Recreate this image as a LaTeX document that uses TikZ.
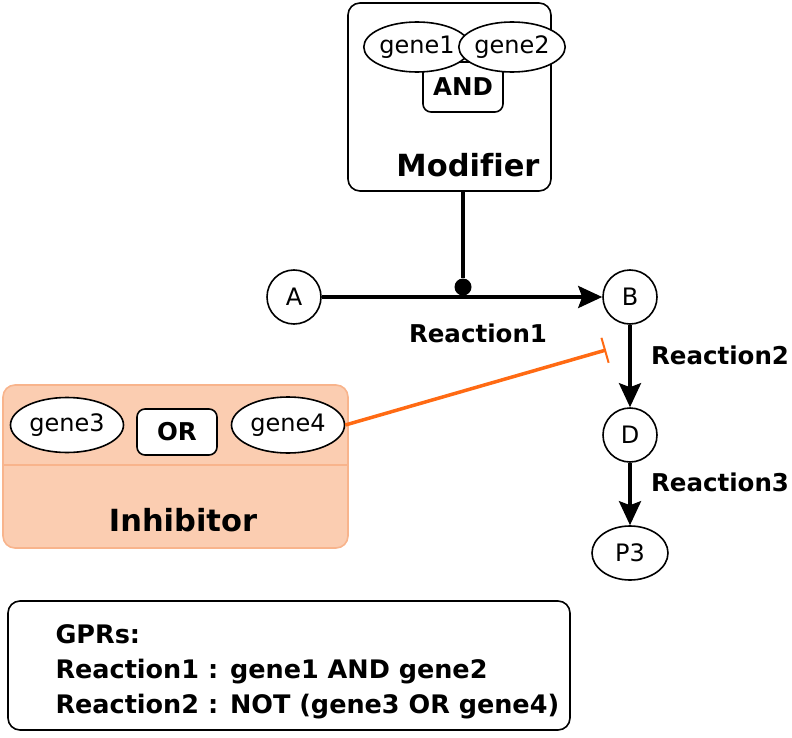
\documentclass[tikz,border=0pt]{standalone}
\usepackage{fontspec}
\setmainfont[Ligatures=NoCommon]{DejaVu Sans}
\usetikzlibrary{shapes.geometric,arrows.meta}

\definecolor{inhfill}{HTML}{FBCDB1}
\definecolor{inhline}{HTML}{F8B48C}
\definecolor{inhorange}{HTML}{FF6A13}

\newcommand*{\genefont}{\fontsize{24}{28}\selectfont}
\newcommand*{\boldfont}{\fontsize{24.5}{28}\selectfont\bfseries}
\newcommand*{\gprfont}{\fontsize{25.5}{35}\selectfont\bfseries}
\newcommand*{\bigfont}{\fontsize{30.5}{34}\selectfont\bfseries}

\begin{document}
\begin{tikzpicture}
[
	x=1pt, y=-1pt,
	gene/.style={ellipse,draw,line width=1.6pt,fill=white,inner sep=0pt,minimum width=98pt,minimum height=50pt,font=\genefont},
	logic/.style={rectangle,rounded corners=8pt,draw,line width=1.6pt,fill=white,inner sep=0pt,minimum width=80pt,minimum height=46pt,font=\boldfont},
	metab/.style={circle,draw,line width=1.6pt,fill=white,inner sep=0pt,minimum size=54pt,font=\genefont},
	group/.style={rectangle,rounded corners=12pt,draw,line width=1.6pt,inner sep=0pt},
	rlabel/.style={font=\boldfont},
	flux/.style={line width=3.5pt,-{Stealth[length=24pt,width=22pt,inset=4pt]}}
]

	\useasboundingbox (0,0) rectangle (792,738);

	% modifier group
	\node[group,minimum width=203pt,minimum height=188pt] at (449.5,97) (mod) {};
	\node[logic,minimum height=50pt] at (463,87) (and) {AND};
	\node[gene] at (417,47) (g1) {gene1};
	\node[gene,minimum width=92pt] at (512,47) (g2) {gene2};
	\node[font=\bigfont] at (468,165) (modlab) {Modifier};

	% inhibitor group
	\node[group,draw=inhline,fill=inhfill,minimum width=345pt,minimum height=163pt] at (175.5,466.5) (inh) {};
	\draw[inhline,line width=1.5pt] (inh.west |- 0,465) -- (inh.east |- 0,465);
	\node[gene,minimum width=113pt,minimum height=55pt] at (67,425) (g3) {gene3};
	\node[logic] at (177,432) (or) {OR};
	\node[gene,minimum width=113pt,minimum height=56pt] at (288,425) (g4) {gene4};
	\node[font=\bigfont] at (183,520) (inhlab) {Inhibitor};

	% metabolites
	\node[metab] at (294,297) (a) {A};
	\node[metab] at (630,297) (b) {B};
	\node[metab] at (630,435) (d) {D};
	\node[metab,ellipse,minimum width=76pt,minimum height=54pt] at (630,553) (p3) {P3};

	% reactions
	\node[circle,fill,inner sep=0pt,minimum size=17pt] at (463,287) (dot) {};
	\draw[flux] (a) -- (b);
	\draw[line width=3.5pt] (dot) -- (dot |- mod.south);
	\node[rlabel] at (478,333) (r1) {Reaction1};
	\draw[flux] (b) -- (d);
	\node[rlabel] at (720,355) (r2) {Reaction2};
	\draw[flux] (d) -- (p3);
	\node[rlabel] at (720,482) (r3) {Reaction3};

	\coordinate (inhend) at (606,350);
	\draw[inhorange,line width=3.5pt,-{Bar[width=26pt,line width=2pt]}] (g4.east) -- (inhend);

	% GPR rules
	\node[group,minimum width=562pt,minimum height=129pt] at (289,665.5) (gpr) {};
	\node[font=\gprfont,anchor=west,align=left] at (52,672) (rules)
		{GPRs:\\Reaction1 : gene1 AND gene2\\Reaction2 : NOT (gene3 OR gene4)};

\end{tikzpicture}
\end{document}
